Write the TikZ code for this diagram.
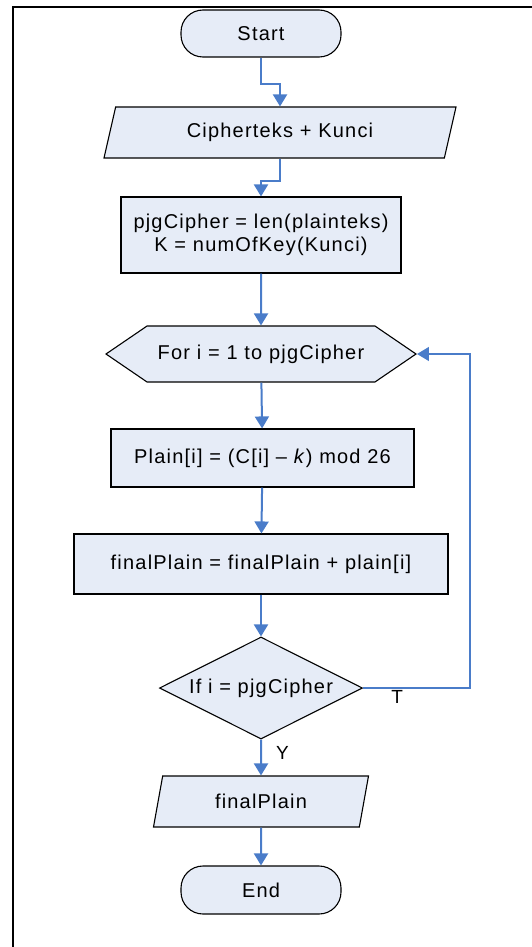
\documentclass[tikz,border=0pt]{standalone}
\usepackage{fontspec}
\setmainfont[LetterSpace=6]{Liberation Sans}
\usepackage{xcolor}
\usetikzlibrary{shapes.geometric,shapes.symbols,arrows.meta}

\definecolor{boxfill}{HTML}{E6ECF7}
\definecolor{flowblue}{HTML}{4A7CC9}

\tikzset{
  box/.style={draw=black, fill=boxfill, line width=1.1pt, inner sep=0pt,
    font=\fontsize{20}{23}\selectfont, align=center},
  terminal/.style={box, rectangle, rounded corners=22pt, minimum width=160pt, minimum height=47pt},
  process/.style={box, rectangle, minimum height=58pt},
  inout/.style={box, trapezium, trapezium left angle=58, trapezium right angle=122,
    trapezium stretches body, minimum height=51pt},
  loopbox/.style={box, signal, signal to=west and east, signal pointer angle=68.6,
    minimum width=310pt, minimum height=56pt},
  decision/.style={box, diamond, aspect=2, minimum width=203pt, minimum height=102pt},
  flow/.style={draw=flowblue, line width=2pt, -{Triangle[width=14pt,length=12pt]}},
  back/.style={draw=flowblue, line width=1.4pt, -{Triangle[width=14pt,length=12pt]}},
  lbl/.style={font=\fontsize{19}{22}\selectfont, inner sep=1pt}
}

\begin{document}
\begin{tikzpicture}[x=1pt, y=1pt, yscale=-1]
  \useasboundingbox (0,0) rectangle (532,947);
  % frame
  \draw[line width=2pt] (13,947) -- (13,7) -- (532,7);

  % nodes
  \node[terminal] (start) at (261,33.5) {Start};
  \node[inout, minimum width=352pt] (input) at (280,132.5) {Cipherteks + Kunci};
  \node[process, minimum width=280pt, minimum height=76pt] (init) at (261,235)
    {pjgCipher = len(plainteks)\\K = numOfKey(Kunci)};
  \node[loopbox] (for) at (261,354) {For i = 1 to pjgCipher};
  \node[process, minimum width=303pt] (plain) at (262.5,458) {Plain[i] = (C[i] -- \textit{k}) mod 26};
  \node[process, minimum width=374pt, minimum height=60pt] (final) at (261,564)
    {finalPlain = finalPlain + plain[i]};
  \node[decision] (check) at (261,688) {If i = pjgCipher};
  \node[inout, minimum width=215pt] (output) at (261,801.5) {finalPlain};
  \node[terminal, minimum height=48pt] (end) at (261,890) {End};

  % connectors
  \draw[flow] (start.south) -- ++(0,26) -| (input.north);
  \draw[flow] (input.south) -- ++(0,22) -| (init.north);
  \draw[flow] (init) -- (for);
  \draw[flow] (for) -- (plain);
  \draw[flow] (plain) -- (final);
  \draw[flow] (final) -- (check);
  \draw[flow] (check) -- node[lbl, pos=0.38, right=13pt] {Y} (output);
  \draw[flow] (output) -- (end);
  \draw[back] (check.east) -- node[lbl, pos=0.32, below=1pt] {T} ++(107,0) |- (for.east);
\end{tikzpicture}
\end{document}
